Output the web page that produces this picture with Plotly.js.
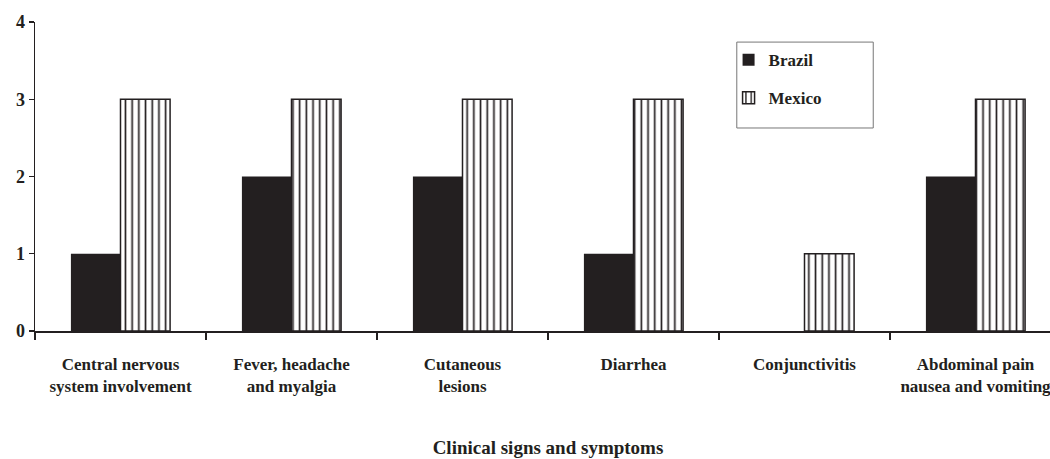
<!DOCTYPE html>
<html>
<head>
<meta charset="utf-8">
<script src="https://cdn.plot.ly/plotly-3.0.1.min.js"></script>
<style>
html, body { margin: 0; padding: 0; overflow: hidden; background: #fff; }
#chart { width: 1066px; height: 459px; }
</style>
</head>
<body>
<div id="chart"></div>
<script>
const categories = [
  "Central nervous<br>system involvement",
  "Fever, headache<br>and myalgia",
  "Cutaneous<br>lesions",
  "Diarrhea",
  "Conjunctivitis",
  "Abdominal pain<br>nausea and vomiting"
];
const brazil = [1, 2, 2, 1, 0, 2];
const mexico = [3, 3, 3, 3, 1, 3];
const yTicks = [0, 1, 2, 3, 4];

const FONT = "'Liberation Serif', 'Times New Roman', serif";

const traces = [
  {
    type: "bar", name: "Brazil", x: categories, y: brazil,
    legendgroup: "a",
    marker: { color: "#231f20", line: { color: "#231f20", width: 0 } }
  },
  {
    type: "bar", name: "Mexico", x: categories, y: mexico,
    legendgroup: "b",
    marker: {
      color: "#ffffff",
      line: { color: "#231f20", width: 1.5 },
      pattern: { shape: "|", fgcolor: "#231f20", bgcolor: "#ffffff", size: 6.7, solidity: 0.25 }
    }
  }
];

const layout = {
  width: 1066, height: 459,
  margin: { l: 35, r: 5, t: 22, b: 128 },
  paper_bgcolor: "#fff", plot_bgcolor: "#fff",
  font: { family: FONT, color: "#231f20", size: 17, weight: "bold" },
  barmode: "group",
  bargap: 0.42, bargroupgap: 0,
  showlegend: true,
  legend: {
    x: 0.676, y: 0.935, xanchor: "left", yanchor: "top",
    borderwidth: 0, bgcolor: "rgba(0,0,0,0)",
    font: { family: FONT, size: 17, weight: "bold", color: "#231f20" },
    traceorder: "grouped", tracegroupgap: 13,
    itemwidth: 30
  },
  shapes: [
    { type: "rect", xref: "paper", yref: "paper", x0: 0.684, x1: 0.817, y0: 0.657, y1: 0.935,
      line: { color: "#777", width: 1 }, fillcolor: "rgba(0,0,0,0)", layer: "below" }
  ],
  xaxis: {
    type: "category",
    showgrid: false, zeroline: false,
    showline: true, linecolor: "#231f20", linewidth: 1.5,
    ticks: "outside", tickson: "boundaries", ticklen: 7, tickwidth: 1.2, tickcolor: "#231f20",
    tickangle: 0,
    tickfont: { family: FONT, size: 17, weight: "bold" },
    ticklabelstandoff: 17,
    title: { text: "Clinical signs and symptoms", font: { family: FONT, size: 19, weight: "bold" }, standoff: 45 }
  },
  yaxis: {
    range: [0, 4],
    tickvals: yTicks, ticktext: yTicks.map(String),
    showgrid: false, zeroline: false,
    showline: true, linecolor: "#231f20", linewidth: 1.5,
    ticks: "outside", ticklen: 5, tickwidth: 1.2, tickcolor: "#231f20",
    tickfont: { family: FONT, size: 18, weight: "bold" }
  }
};

Plotly.newPlot("chart", traces, layout, { displayModeBar: false, staticPlot: true });
</script>
</body>
</html>
